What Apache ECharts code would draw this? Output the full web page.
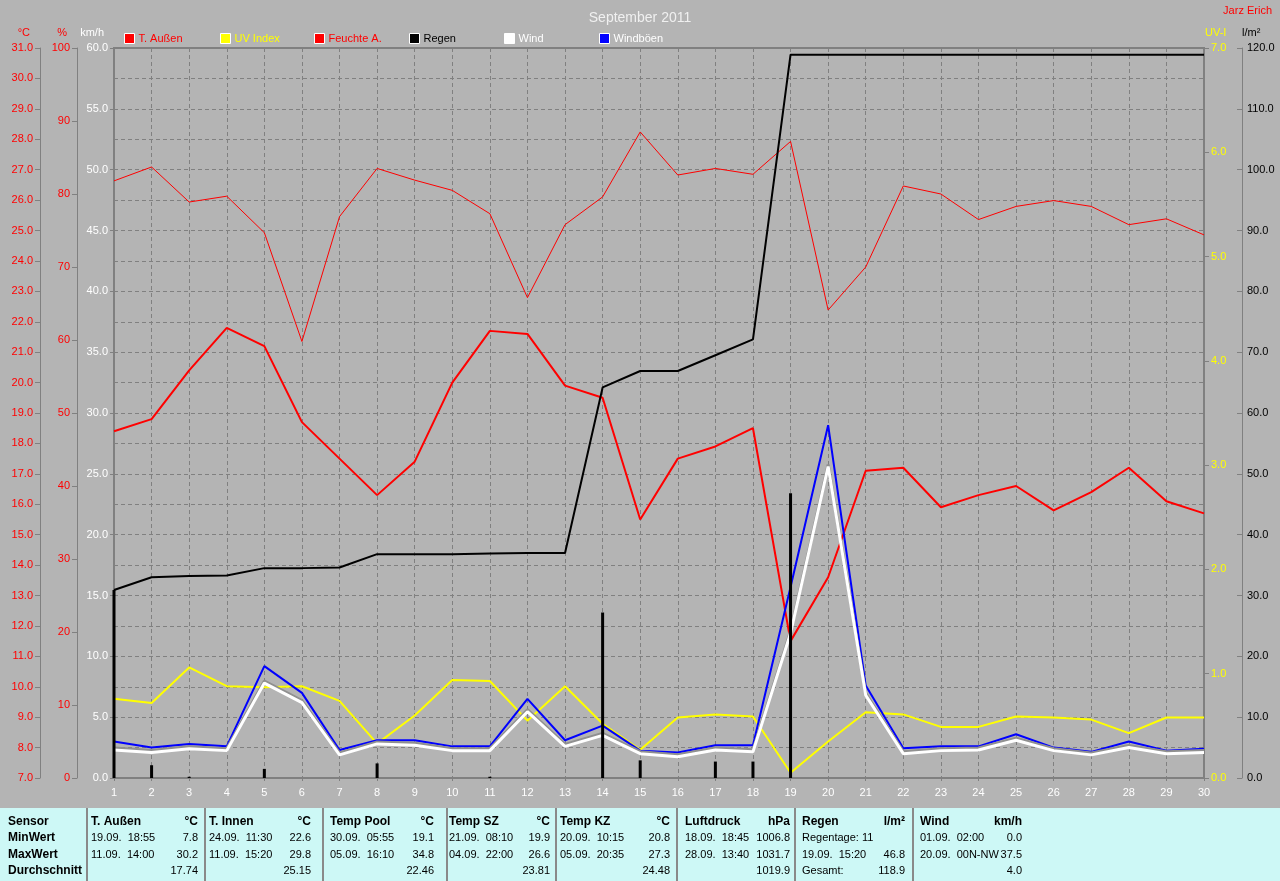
<!DOCTYPE html>
<html>
<head>
<meta charset="utf-8">
<script src="https://cdn.jsdelivr.net/npm/echarts@6/dist/echarts.min.js"></script>
<style>
html,body{margin:0;padding:0;background:#b4b4b4;}
#chart{width:1280px;height:881px;}
</style>
</head>
<body>
<div id="chart"></div>
<script>
// ---------- chart data ----------
const days = ['1','2','3','4','5','6','7','8','9','10','11','12','13','14','15','16','17','18','19','20','21','22','23','24','25','26','27','28','29','30'];
const tempAussen = [18.4, 18.8, 20.4, 21.8, 21.2, 18.7, 17.5, 16.3, 17.4, 20.0, 21.7, 21.6, 19.9, 19.5, 15.5, 17.5, 17.9, 18.5, 11.5, 13.6, 17.1, 17.2, 15.9, 16.3, 16.6, 15.8, 16.4, 17.2, 16.1, 15.7];
const feuchteA = [81.8, 83.7, 78.9, 79.7, 74.7, 59.8, 76.9, 83.5, 81.9, 80.5, 77.3, 65.8, 75.8, 79.6, 88.5, 82.6, 83.5, 82.7, 87.2, 64.1, 70.0, 81.1, 80.0, 76.5, 78.3, 79.1, 78.3, 75.8, 76.6, 74.4];
const uvIndex = [0.76, 0.72, 1.06, 0.88, 0.87, 0.88, 0.74, 0.33, 0.60, 0.94, 0.93, 0.55, 0.88, 0.52, 0.27, 0.58, 0.61, 0.59, 0.05, 0.35, 0.63, 0.61, 0.49, 0.49, 0.59, 0.58, 0.56, 0.43, 0.58, 0.58];
const regenSumme = [30.9, 33.0, 33.2, 33.3, 34.5, 34.5, 34.6, 36.8, 36.8, 36.8, 36.9, 37.0, 37.0, 64.2, 66.9, 66.9, 69.5, 72.1, 118.9, 118.9, 118.9, 118.9, 118.9, 118.9, 118.9, 118.9, 118.9, 118.9, 118.9, 118.9];
const regenTag = [30.9, 2.1, 0.2, 0, 1.5, 0, 0, 2.4, 0, 0, 0.2, 0, 0, 27.2, 2.9, 0, 2.7, 2.7, 46.8, 0, 0, 0, 0, 0, 0, 0, 0, 0, 0, 0];
const wind = [2.3, 2.1, 2.4, 2.25, 7.8, 6.2, 1.9, 2.8, 2.7, 2.25, 2.25, 5.45, 2.6, 3.5, 2.0, 1.75, 2.3, 2.15, 11.9, 25.6, 6.8, 2.0, 2.25, 2.3, 3.1, 2.25, 1.9, 2.5, 2.0, 2.1];
const windBoeen = [3.0, 2.5, 2.8, 2.6, 9.2, 7.0, 2.3, 3.1, 3.1, 2.6, 2.6, 6.5, 3.1, 4.3, 2.25, 2.1, 2.7, 2.7, 15.7, 29.0, 7.6, 2.45, 2.6, 2.6, 3.6, 2.5, 2.15, 3.0, 2.25, 2.4];

const legendNames = ['T. Außen', 'UV Index', 'Feuchte A.', 'Regen', 'Wind', 'Windböen'];
const axisNames = ['km/h', '°C', '%', 'UV-I', 'l/m²'];

// ---------- table data ----------
const rowLabels = ['Sensor', 'MinWert', 'MaxWert', 'Durchschnitt'];
const sensorNames = ['T. Außen', 'T. Innen', 'Temp Pool', 'Temp SZ', 'Temp KZ', 'Luftdruck', 'Regen', 'Wind'];
const sensorUnits = ['°C', '°C', '°C', '°C', '°C', 'hPa', 'l/m²', 'km/h'];
const minTimes = ['19.09.  18:55', '24.09.  11:30', '30.09.  05:55', '21.09.  08:10', '20.09.  10:15', '18.09.  18:45', 'Regentage: 11', '01.09.  02:00'];
const minValues = ['7.8', '22.6', '19.1', '19.9', '20.8', '1006.8', '', '0.0'];
const maxTimes = ['11.09.  14:00', '11.09.  15:20', '05.09.  16:10', '04.09.  22:00', '05.09.  20:35', '28.09.  13:40', '19.09.  15:20', '20.09.  00N-NW'];
const maxValues = ['30.2', '29.8', '34.8', '26.6', '27.3', '1031.7', '46.8', '37.5'];
const avgLabels = ['', '', '', '', '', '', 'Gesamt:', ''];
const avgValues = ['17.74', '25.15', '22.46', '23.81', '24.48', '1019.9', '118.9', '4.0'];

// ---------- layout (positions / styles only) ----------
const colLeft = [91, 209, 330, 449, 560, 685, 802, 920];
const colRight = [198, 311, 434, 550, 670, 790, 905, 1022];
const sepX = [87, 205, 323, 447, 556, 677, 795, 913];
const rowY = [822, 838, 855, 871];
const legendLeft = [124, 220, 314, 409, 504, 599];
const legendTextColor = ['#ff0000', '#ffff00', '#ff0000', '#000000', '#ffffff', '#ffffff'];

const FONT = '"Liberation Sans", Arial, sans-serif';
const chart = echarts.init(document.getElementById('chart'), null, {renderer: 'canvas'});

// table graphics
const g = [];
g.push({type: 'rect', shape: {x: 0, y: 808, width: 1280, height: 73}, style: {fill: '#cdf8f6'}, silent: true});
sepX.forEach(x => g.push({type: 'rect', shape: {x: x - 1, y: 808, width: 2, height: 73}, style: {fill: '#8a8a8a'}, silent: true}));
function txt(x, y, s, align, bold) {
  g.push({type: 'text', x: x, y: y, silent: true,
    style: {text: s, fill: '#000', font: (bold ? 'bold 12px ' : '11px ') + FONT, textAlign: align, textVerticalAlign: 'middle'}});
}
rowLabels.forEach((s, i) => txt(8, rowY[i], s, 'left', true));
sensorNames.forEach((s, i) => {
  txt(colLeft[i], rowY[0], s, 'left', true);
  txt(colRight[i], rowY[0], sensorUnits[i], 'right', true);
  txt(colLeft[i], rowY[1], minTimes[i], 'left', false);
  txt(colRight[i], rowY[1], minValues[i], 'right', false);
  txt(colLeft[i], rowY[2], maxTimes[i], 'left', false);
  txt(colRight[i], rowY[2], maxValues[i], 'right', false);
  txt(colLeft[i], rowY[3], avgLabels[i], 'left', false);
  txt(colRight[i], rowY[3], avgValues[i], 'right', false);
});
g.push({type: 'text', right: 8, top: 5, silent: true,
  style: {text: 'Jarz Erich', fill: '#ff0000', font: '11px ' + FONT}});

const gridCol = '#808080';
function yAx(o) {
  return Object.assign({
    type: 'value',
    nameLocation: 'end',
    nameGap: 15,
    axisLine: {show: true, lineStyle: {color: gridCol, width: 1}},
    axisTick: {show: true, length: 5, lineStyle: {color: gridCol}},
    splitLine: {show: false},
    axisLabel: {fontSize: 11, fontFamily: FONT, margin: 7},
  }, o);
}

const legends = legendNames.map((n, i) => ({
  left: legendLeft[i], top: 33, itemWidth: 10, itemHeight: 10, icon: 'rect',
  selectedMode: false, padding: 0,
  itemStyle: {borderColor: '#ffffff', borderWidth: 1},
  textStyle: {fontSize: 11, fontFamily: FONT, color: legendTextColor[i], padding: [0, 0, 0, -1]},
  data: [n]
}));

const option = {
  backgroundColor: '#b4b4b4',
  animation: false,
  textStyle: {fontFamily: FONT},
  title: {text: 'September 2011', left: 'center', top: 6,
    textStyle: {color: '#f0f0f0', fontSize: 14, fontWeight: 'normal', fontFamily: FONT}},
  legend: legends,
  grid: {left: 114, right: 76, top: 48, bottom: 103, show: true, borderColor: gridCol, borderWidth: 2, backgroundColor: 'transparent'},
  xAxis: {
    type: 'category', data: days, boundaryGap: false,
    axisLine: {show: true, lineStyle: {color: gridCol, width: 2}},
    axisTick: {show: true, length: 3, lineStyle: {color: gridCol}},
    axisLabel: {color: '#ffffff', fontSize: 11, fontFamily: FONT, margin: 9, interval: 0},
    splitLine: {show: true, lineStyle: {color: gridCol, type: [4, 3], width: 1}}
  },
  yAxis: [
    yAx({name: axisNames[0], position: 'left', offset: 0, min: 0, max: 60, interval: 5,
      nameTextStyle: {color: '#ffffff', fontSize: 11, fontFamily: FONT, align: 'right', verticalAlign: 'middle', padding: [0, 10, 0, 0]},
      axisLine: {show: true, lineStyle: {color: gridCol, width: 2}},
      axisTick: {show: true, length: 4, lineStyle: {color: gridCol}},
      axisLabel: {color: '#ffffff', fontSize: 11, fontFamily: FONT, margin: 6, formatter: v => v.toFixed(1)}}),
    yAx({name: axisNames[1], position: 'left', offset: 74, min: 7, max: 31, interval: 1,
      nameTextStyle: {color: '#ff0000', fontSize: 11, fontFamily: FONT, align: 'right', verticalAlign: 'middle', padding: [0, 10, 0, 0]},
      axisLabel: {color: '#ff0000', fontSize: 11, fontFamily: FONT, margin: 7, formatter: v => v.toFixed(1)},
      splitLine: {show: true, lineStyle: {color: gridCol, type: [4, 3], width: 1}}}),
    yAx({name: axisNames[2], position: 'left', offset: 37, min: 0, max: 100, interval: 10,
      nameTextStyle: {color: '#ff0000', fontSize: 11, fontFamily: FONT, align: 'right', verticalAlign: 'middle', padding: [0, 10, 0, 0]},
      axisLabel: {color: '#ff0000', fontSize: 11, fontFamily: FONT, margin: 7, formatter: v => String(v)}}),
    yAx({name: axisNames[3], position: 'right', offset: 0, min: 0, max: 7, interval: 1,
      nameTextStyle: {color: '#ffff00', fontSize: 11, fontFamily: FONT, align: 'left', verticalAlign: 'middle', padding: [0, 0, 0, 1]},
      axisLine: {show: true, lineStyle: {color: gridCol, width: 2}},
      axisLabel: {color: '#ffff00', fontSize: 11, fontFamily: FONT, margin: 7, formatter: v => v.toFixed(1)}}),
    yAx({name: axisNames[4], position: 'right', offset: 38, min: 0, max: 120, interval: 10,
      nameTextStyle: {color: '#000000', fontSize: 11, fontFamily: FONT, align: 'left', verticalAlign: 'middle', padding: [0, 0, 0, 0]},
      axisTick: {show: true, inside: true, length: 5, lineStyle: {color: gridCol}},
      axisLabel: {color: '#000000', fontSize: 11, fontFamily: FONT, margin: 5, formatter: v => v.toFixed(1)}})
  ],
  series: [
    {name: legendNames[2], type: 'line', yAxisIndex: 2, data: feuchteA, showSymbol: false, symbol: 'none',
      color: '#ff0000', lineStyle: {color: '#ff0000', width: 1}, z: 2},
    {name: legendNames[0], type: 'line', yAxisIndex: 1, data: tempAussen, showSymbol: false, symbol: 'none',
      color: '#ff0000', lineStyle: {color: '#ff0000', width: 2}, z: 3},
    {name: legendNames[3], type: 'line', yAxisIndex: 4, data: regenSumme, showSymbol: false, symbol: 'none',
      color: '#000000', lineStyle: {color: '#000000', width: 2}, z: 4},
    {name: legendNames[1], type: 'line', yAxisIndex: 3, data: uvIndex, showSymbol: false, symbol: 'none',
      color: '#ffff00', lineStyle: {color: '#ffff00', width: 2}, z: 5},
    {name: legendNames[5], type: 'line', yAxisIndex: 0, data: windBoeen, showSymbol: false, symbol: 'none',
      color: '#0000ff', lineStyle: {color: '#0000ff', width: 2}, z: 6},
    {name: legendNames[4], type: 'line', yAxisIndex: 0, data: wind, showSymbol: false, symbol: 'none',
      color: '#ffffff', lineStyle: {color: '#ffffff', width: 3, shadowColor: '#909090', shadowOffsetY: -2, shadowBlur: 0}, z: 7},
    {name: 'Regen Tag', type: 'bar', yAxisIndex: 4, data: regenTag, barWidth: 3,
      itemStyle: {color: '#000000'}, z: 8}
  ],
  graphic: g
};
chart.setOption(option);
</script>
</body>
</html>
